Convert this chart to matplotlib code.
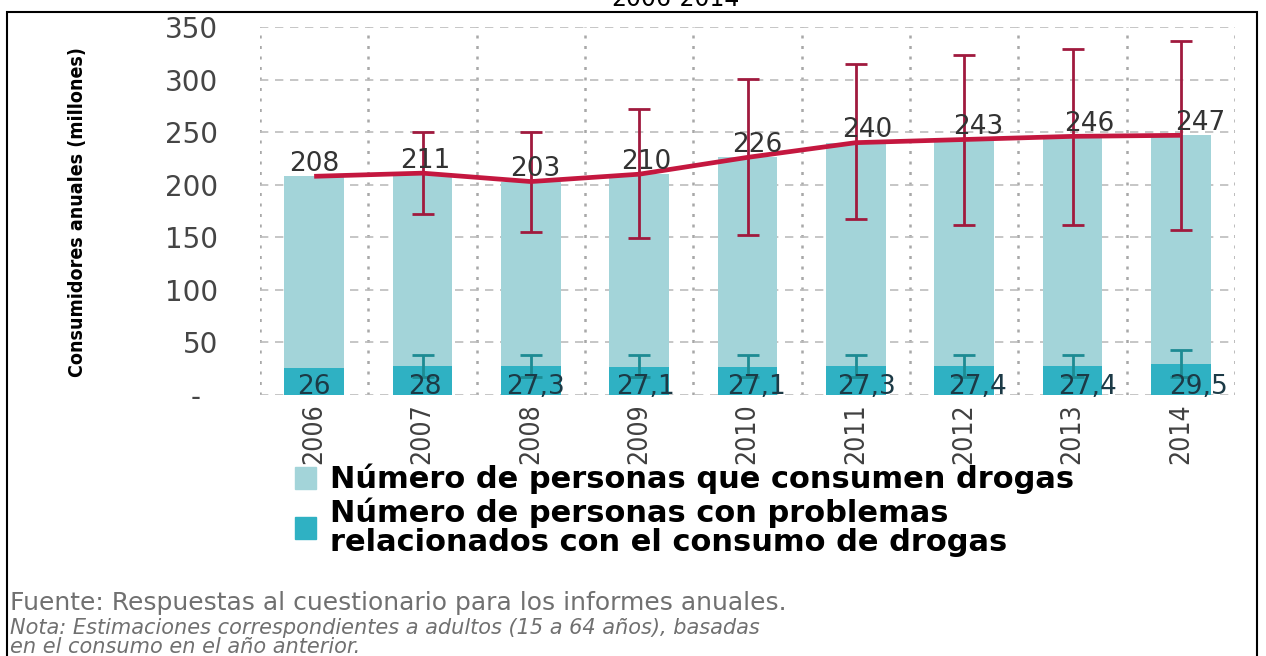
import numpy as np
import matplotlib
matplotlib.use('Agg')
import matplotlib.pyplot as plt
from matplotlib.patches import Patch, Rectangle
from matplotlib import font_manager

years = ['2006', '2007', '2008', '2009', '2010', '2011', '2012', '2013', '2014']
consumidores = [208, 211, 203, 210, 226, 240, 243, 246, 247]
cons_bajo = [np.nan, 172, 155, 149, 152, 167, 162, 162, 157]
cons_alto = [np.nan, 250, 250, 272, 301, 315, 323, 329, 337]
problemas = [26, 28, 27.3, 27.1, 27.1, 27.3, 27.4, 27.4, 29.5]
prob_bajo = [np.nan, 17, 17, 17, 17, 17, 17, 17, 17]
prob_alto = [np.nan, 38, 38, 38, 38, 38, 38, 38, 43]
y_ticks = [0, 50, 100, 150, 200, 250, 300, 350]
y_labels = ['-  ', '50', '100', '150', '200', '250', '300', '350']
leyenda = ['Número de personas que consumen drogas',
           'Número de personas con problemas\nrelacionados con el consumo de drogas']

c_claro = '#a3d4d9'
c_oscuro = '#2fb1c3'
c_rojo = '#c4173f'
c_err = '#a01a3e'
c_err2 = '#1d8b93'

# narrow font if there is one, otherwise condensed DejaVu or plain DejaVu
def narrow(weight='normal'):
    for fam, st in [('Liberation Sans Narrow', 'normal'), ('DejaVu Sans', 'condensed')]:
        fp = font_manager.FontProperties(family=fam, stretch=st, weight=weight)
        try:
            f = font_manager.findfont(fp, fallback_to_default=False)
        except Exception:
            continue
        if fam != 'DejaVu Sans' or 'Condensed' in f:
            return fp, True
    return font_manager.FontProperties(family='DejaVu Sans', weight=weight), False

fp_x, ok_x = narrow()
fp_y, ok_y = narrow('bold')

def fmt(v):
    return ('%g' % v).replace('.', ',')

fig = plt.figure(figsize=(12.66, 6.56), dpi=100)
ax = fig.add_axes([260/1266, 1-395/656, 975/1266, 368/656])

x = np.arange(len(years))
cons = np.array(consumidores, dtype=float)
prob = np.array(problemas, dtype=float)

ax.bar(x, cons, width=0.55, color=c_claro, zorder=2)
ax.bar(x, prob, width=0.55, color=c_oscuro, zorder=3)

err_c = [cons - np.array(cons_bajo), np.array(cons_alto) - cons]
ax.errorbar(x, cons, yerr=err_c, fmt='none', ecolor=c_err, elinewidth=2,
            capsize=8, capthick=2, zorder=4)
err_p = [prob - np.array(prob_bajo), np.array(prob_alto) - prob]
ax.errorbar(x, prob, yerr=err_p, fmt='none', ecolor=c_err2, elinewidth=2,
            capsize=8, capthick=2, zorder=4)
ax.plot(x, cons, color=c_rojo, lw=3.4, zorder=5, solid_capstyle='butt')

for i in range(len(years)):
    ax.text(x[i] + 0.022*i, cons[i] + 12, fmt(consumidores[i]), ha='center',
            va='center', fontsize=19, color='#333333', zorder=6)
    ax.text(x[i] + 0.02*i, 8, fmt(problemas[i]), ha='center', va='center',
            fontsize=19, color='#1c3a46', zorder=6)

ax.set_xlim(-0.5, len(years) - 0.5)
ax.set_ylim(0, 350)
ax.set_yticks(y_ticks)
ax.set_yticklabels(y_labels, fontsize=20, color='#454545')
ax.set_xticks(x)
ax.set_xticklabels(years, rotation=90, color='#404040')
for t in ax.get_xticklabels():
    t.set_fontproperties(fp_x)
    t.set_fontsize(19 if ok_x else 16)
ax.set_xticks(np.arange(-0.5, len(years)), minor=True)
ax.tick_params(axis='y', length=0, pad=30)
ax.tick_params(axis='x', which='both', length=0, pad=6)
ax.yaxis.grid(True, color='#bcbcbc', lw=1.2, linestyle=(0, (5, 4)), zorder=0)
ax.xaxis.grid(True, which='minor', color='#a8a8a8', lw=1.8,
              linestyle=(0, (1.2, 3)), zorder=0)
ax.xaxis.grid(False, which='major')
for s in ax.spines.values():
    s.set_visible(False)

fig.text(78/1266, 1-212/656, 'Consumidores anuales (millones)', rotation=90,
         ha='center', va='center', fontproperties=fp_y,
         fontsize=14 if ok_y else 12)

handles = [Patch(color=c_claro), Patch(color=c_oscuro)]
leg = fig.legend(handles, leyenda, loc='upper left', bbox_to_anchor=(295/1266, 1-464/656),
                 frameon=False, prop={'size': 22, 'weight': 'bold'},
                 handlelength=0.7, handleheight=0.7, handletextpad=0.45,
                 labelspacing=0.1, borderpad=0, borderaxespad=0)
for t in leg.get_texts():
    t.set_linespacing(1.0)

fig.text(10/1266, 1-603/656, 'Fuente: Respuestas al cuestionario para los informes anuales.',
         ha='left', va='center', fontsize=18, color='#707070')
fig.text(10/1266, 1-628/656, 'Nota: Estimaciones correspondientes a adultos (15 a 64 años), basadas',
         ha='left', va='center', fontsize=15, color='#707070', style='italic')
fig.text(10/1266, 1-647/656, 'en el consumo en el año anterior.',
         ha='left', va='center', fontsize=15, color='#707070', style='italic')

fig.text(675/1266, 1-6/656, '2006-2014', ha='center', va='baseline', fontsize=17)
fig.add_artist(Rectangle((7/1266, -0.02), 1250/1266, 1-12/656 + 0.02,
                         transform=fig.transFigure, fill=False, ec='black', lw=1.5))

fig.savefig('out.png', dpi=100)
